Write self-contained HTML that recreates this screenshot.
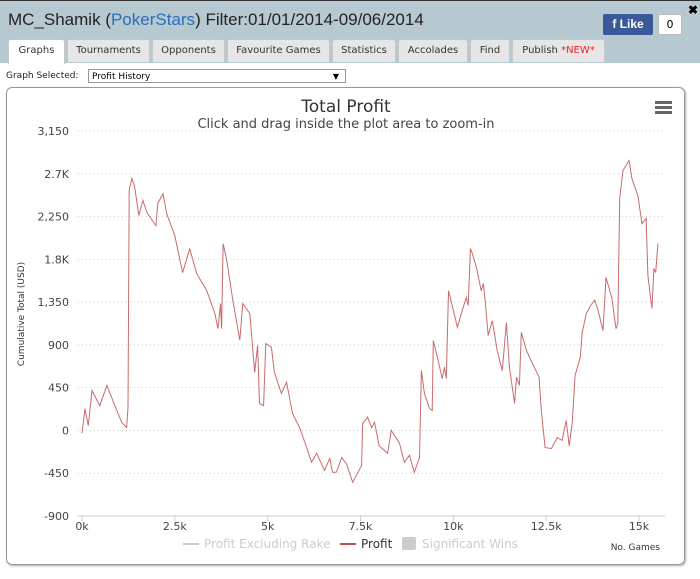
<!DOCTYPE html>
<html><head><meta charset="utf-8">
<style>
body{margin:0;width:700px;height:579px;overflow:hidden;background:#fff;font-family:"DejaVu Sans","Liberation Sans",sans-serif;}
#hdr{position:absolute;left:0;top:0;width:700px;height:62px;background:#b6c9d1;border-top:1px solid #333;}
#title{position:absolute;left:8px;top:9px;font:17px "Liberation Sans",sans-serif;color:#222;}
#title span{color:#2a6ebb}
.tab{position:absolute;top:38px;height:22px;background:#e6e6e6;border:1px solid #c8c8c8;border-bottom:none;font-size:10px;color:#333;text-align:center;line-height:22px;border-radius:3px 3px 0 0;}
.tab.act{background:#fff;height:24px;}
#like{position:absolute;left:603px;top:13px;width:50px;height:21px;background:#3b5998;color:#fff;font:bold 12px "Liberation Sans",sans-serif;line-height:21px;text-align:center;border-radius:2px}
#cnt{position:absolute;left:658px;top:13px;width:22px;height:19px;border:1px solid #bbb;background:#fff;font-size:11px;text-align:center;line-height:19px;border-radius:2px}
#x{position:absolute;left:688px;top:2px;font:bold 12px sans-serif}
#sel-l{position:absolute;left:6px;top:71px;font-size:9px;color:#222}
#sel{position:absolute;left:88px;top:69px;height:14px;border:1px solid #999;font-size:9px;line-height:14px;padding-left:3px;box-sizing:border-box;width:258px}
#box{position:absolute;left:6px;top:87px;width:679px;height:478px;border:1px solid #999;border-radius:6px;box-sizing:border-box;box-shadow:1px 1px 2px #aaa}
svg text{font-family:"DejaVu Sans","Liberation Sans",sans-serif}
</style></head><body>
<div id="hdr">
<div id="title">MC_Shamik (<span>PokerStars</span>) Filter:01/01/2014-09/06/2014</div>
<div id="like">f Like</div>
<div id="cnt">0</div>
<div id="x">✖</div>
<div class="tab act" style="left:8px;width:55px">Graphs</div>
<div class="tab" style="left:67px;width:81px">Tournaments</div>
<div class="tab" style="left:152px;width:71px">Opponents</div>
<div class="tab" style="left:227px;width:101px">Favourite Games</div>
<div class="tab" style="left:332px;width:62px">Statistics</div>
<div class="tab" style="left:398px;width:68px">Accolades</div>
<div class="tab" style="left:470px;width:38px">Find</div>
<div class="tab" style="left:512px;width:91px">Publish <span style="color:#e22">*NEW*</span></div>
</div>
<div id="sel-l">Graph Selected:</div>
<div id="sel">Profit History<span style="position:absolute;right:6px;font-size:8px">▼</span></div>
<div id="box"></div>
<svg id="chart" width="700" height="579" style="position:absolute;left:0;top:0">
<text x="346" y="112" text-anchor="middle" font-size="17" fill="#333">Total Profit</text>
<text x="346" y="128" text-anchor="middle" font-size="13" fill="#444">Click and drag inside the plot area to zoom-in</text>
<g><rect x="655" y="101" width="17" height="3" fill="#666"/><rect x="655" y="106" width="17" height="3" fill="#666"/><rect x="655" y="111" width="17" height="3" fill="#666"/></g>
<text transform="translate(24,314) rotate(-90)" text-anchor="middle" font-size="9" fill="#333">Cumulative Total (USD)</text>
<text x="660" y="550" text-anchor="end" font-size="9" fill="#333">No. Games</text>
<g id="grid"></g><g id="ylab"></g><g id="xlab"></g>
<line x1="78" y1="516" x2="665" y2="516" stroke="#ccd" stroke-width="1"/>
<path id="line" fill="none" stroke="#c86a6a" stroke-width="1"/>
<g>
<line x1="183" y1="544" x2="199" y2="544" stroke="#ccc" stroke-width="2"/><text x="204" y="548" font-size="12" fill="#ccc">Profit Excluding Rake</text>
<line x1="340" y1="544" x2="356" y2="544" stroke="#c0504d" stroke-width="2"/><text x="361" y="548" font-size="12" fill="#333">Profit</text>
<rect x="402" y="537" width="14" height="13" rx="2" fill="#ccc"/><text x="422" y="548" font-size="12" fill="#ccc">Significant Wins</text>
</g>
</svg>
<script>
const yTicks=[3150,2700,2250,1800,1350,900,450,0,-450,-900];
const yTickLabels=["3,150","2.7K","2,250","1.8K","1,350","900","450","0","-450","-900"];
const xTicks=[0,2500,5000,7500,10000,12500,15000];
const xTickLabels=["0k","2.5k","5k","7.5k","10k","12.5k","15k"];
const games=[0,80,170,270,480,670,830,1070,1200,1240,1270,1340,1420,1530,1640,1750,1990,2040,2180,2280,2500,2710,2900,3090,3360,3580,3660,3730,3760,3800,3900,4060,4250,4330,4520,4650,4730,4780,4890,4950,5100,5180,5370,5510,5670,5860,6050,6180,6320,6530,6670,6750,6850,6990,7120,7290,7420,7530,7560,7690,7800,7880,8000,8230,8330,8550,8680,8820,8950,9090,9140,9220,9360,9430,9460,9570,9700,9760,9810,9870,9950,10110,10240,10350,10400,10460,10510,10620,10750,10810,10860,10940,11050,11180,11320,11430,11510,11650,11700,11780,11830,11970,12130,12310,12370,12470,12640,12800,12930,13040,13120,13200,13280,13420,13470,13580,13700,13810,13900,14030,14110,14270,14380,14430,14480,14570,14730,14810,14970,15080,15190,15240,15310,15350,15400,15450,15510];
const profit=[-30,230,50,420,260,475,315,85,30,240,2525,2650,2560,2260,2420,2290,2155,2390,2490,2280,2050,1660,1910,1650,1470,1230,1070,1335,1070,1965,1790,1370,950,1335,1230,610,895,285,260,915,875,610,390,505,180,30,-180,-335,-240,-420,-295,-440,-440,-285,-350,-545,-450,-370,75,140,30,85,-160,-240,0,-135,-335,-260,-440,-285,630,390,230,210,945,770,545,665,545,1470,1345,1085,1260,1400,1315,1915,1860,1715,1470,1545,1345,1000,1155,840,630,1135,665,285,560,475,1030,840,705,560,210,-180,-190,-75,-105,105,-160,75,580,770,1030,1230,1315,1370,1260,1050,1610,1390,1070,1125,2440,2735,2840,2650,2470,2175,2230,1630,1400,1285,1705,1660,1965];
const X=g=>82+g*(639-82)/15000;
const Y=v=>516-(v+900)*(516-131)/4050;
const NS="http://www.w3.org/2000/svg";
const grid=document.getElementById('grid'),yl=document.getElementById('ylab'),xl=document.getElementById('xlab');
yTicks.forEach((t,i)=>{
 if(t!==-900){const l=document.createElementNS(NS,'line');
 l.setAttribute('x1',78);l.setAttribute('x2',665);l.setAttribute('y1',Y(t));l.setAttribute('y2',Y(t));
 l.setAttribute('stroke','#ccc');l.setAttribute('stroke-dasharray','1,3');
 
 
 grid.appendChild(l);}
 const tx=document.createElementNS(NS,'text');
 tx.setAttribute('x',69);tx.setAttribute('y',Y(t)+4);tx.setAttribute('text-anchor','end');tx.setAttribute('font-size','11');tx.setAttribute('fill','#444');
 tx.textContent=yTickLabels[i];
 
 
 yl.appendChild(tx);
});
xTicks.forEach((t,i)=>{
 const l=document.createElementNS(NS,'line');
 l.setAttribute('x1',X(t));l.setAttribute('x2',X(t));l.setAttribute('y1',516);l.setAttribute('y2',521);l.setAttribute('stroke','#ccd');
 
 
 xl.appendChild(l);
 const tx=document.createElementNS(NS,'text');
 tx.setAttribute('x',X(t));tx.setAttribute('y',530);tx.setAttribute('text-anchor','middle');tx.setAttribute('font-size','11');tx.setAttribute('fill','#444');
 tx.textContent=xTickLabels[i];
 
 
 xl.appendChild(tx);
});
document.getElementById('line').setAttribute('d',games.map((g,i)=>(i?'L':'M')+X(g).toFixed(1)+','+Y(profit[i]).toFixed(1)).join(' '));
</script>
</body></html>
